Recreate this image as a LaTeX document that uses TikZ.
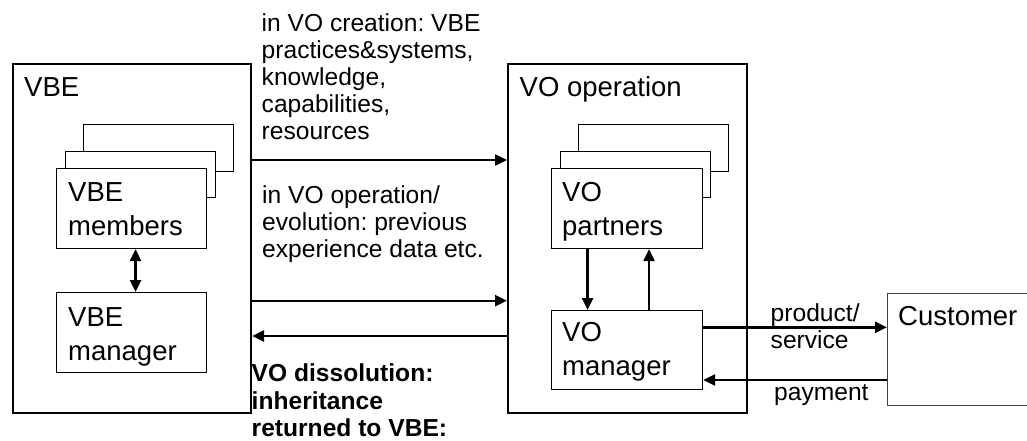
\documentclass[tikz,border=0pt]{standalone}
\usepackage{fontspec}
\setmainfont{Liberation Sans}
\usetikzlibrary{arrows.meta}
\frenchspacing
\tikzset{
  outer/.style={draw, line width=2.2pt, inner sep=0pt, anchor=north west},
  inbox/.style={draw, line width=1.1pt, fill=white, inner sep=0pt, anchor=north west},
  custbox/.style={draw=black!75, line width=1.3pt, fill=white, inner sep=0pt, anchor=north west},
  big/.style={font=\fontsize{27.5}{33}\selectfont, anchor=base west, inner sep=0pt},
  lab/.style={font=\fontsize{24.6}{27}\selectfont, anchor=base west, inner sep=0pt},
  blab/.style={font=\fontsize{24.6}{27}\selectfont\bfseries, anchor=base west, inner sep=0pt},
  arr/.style={line width=2.4pt, -{Triangle[length=12pt,width=11pt]}},
  darr/.style={line width=2.4pt, {Triangle[length=12pt,width=11pt]}-{Triangle[length=12pt,width=11pt]}},
}
\begin{document}
\begin{tikzpicture}[x=1pt,y=-1pt]
\useasboundingbox (0,0) rectangle (1027,440);

% outer boxes
\node[outer, minimum width=238, minimum height=349] (vbe) at (12,63) {};
\node[outer, minimum width=239, minimum height=349] (vo) at (507,63) {};

% VBE stacked boxes
\node[inbox, minimum width=150, minimum height=47] (vbeback) at (83,124) {};
\node[inbox, minimum width=150, minimum height=46] (vbemid) at (65,151) {};
\node[inbox, minimum width=150, minimum height=80] (vbem) at (56,168) {};
\node[inbox, minimum width=150, minimum height=80] (vbemgr) at (56,292) {};

% VO stacked boxes
\node[inbox, minimum width=150, minimum height=47] (voback) at (578,124) {};
\node[inbox, minimum width=150, minimum height=46] (vomid) at (560,151) {};
\node[inbox, minimum width=151, minimum height=80] (vop) at (551,168) {};
\node[inbox, minimum width=151, minimum height=79] (vomgr) at (551,310) {};

% customer
\node[custbox, minimum width=160, minimum height=112] (cust) at (887,293) {};

% box texts
\node[big] (tvbe) at (24,96.7) {VBE};
\node[big] (tvbem1) at (68,201.7) {VBE};
\node[big] (tvbem2) at (68,235) {members};
\node[big] (tvbeg1) at (68,326.7) {VBE};
\node[big] (tvbeg2) at (68,360) {manager};
\node[big] (tvo) at (519.5,96.7) {VO operation};
\node[big] (tvop1) at (562,201.7) {VO};
\node[big] (tvop2) at (562,235) {partners};
\node[big] (tvog1) at (562,341.7) {VO};
\node[big] (tvog2) at (562,375) {manager};
\node[big] (tcust) at (898,325) {Customer};

% labels
\node[lab] (l1a) at (261.5,31.7) {in VO creation: VBE};
\node[lab] (l1b) at (261.5,58.7) {practices\&systems,};
\node[lab] (l1c) at (261.5,85.7) {knowledge,};
\node[lab] (l1d) at (261.5,112.7) {capabilities,};
\node[lab] (l1e) at (261.5,139.7) {resources};
\node[lab] (l2a) at (262,203) {in VO operation/};
\node[lab] (l2b) at (262,230) {evolution: previous};
\node[lab] (l2c) at (262,257) {experience data etc.};
\node[blab] (l3a) at (251.5,381.7) {VO dissolution:};
\node[blab] (l3b) at (251.5,409) {inheritance};
\node[blab] (l3c) at (251.5,436.5) {returned to VBE:};
\node[lab] (lp1) at (770.5,321.7) {product/};
\node[lab] (lp2) at (770.5,348.3) {service};
\node[lab] (lpay) at (774,400) {payment};

% connector levels
\coordinate (y1) at (0,160);
\coordinate (y2) at (0,300.7);
\coordinate (y3) at (0,336);
\coordinate (y4) at (0,327.3);
\coordinate (y5) at (0,380);

% arrows between outer boxes
\draw[arr] (vbe.east |- y1) -- (vo.west |- y1);
\draw[arr] (vbe.east |- y2) -- (vo.west |- y2);
\draw[arr] (vo.west |- y3) -- (vbe.east |- y3);

% inner arrows
\draw[darr] ([xshift=4]vbem.south) -- ([xshift=4]vbemgr.north);
\draw[arr] ([xshift=-39.5]vop.south) -- ([xshift=-39.5]vomgr.north);
\draw[arr] ([xshift=22]vomgr.north) -- ([xshift=22]vop.south);

% customer arrows
\draw[arr] (vomgr.east |- y4) -- (cust.west |- y4);
\draw[arr] (cust.west |- y5) -- (vomgr.east |- y5);
\end{tikzpicture}
\end{document}
